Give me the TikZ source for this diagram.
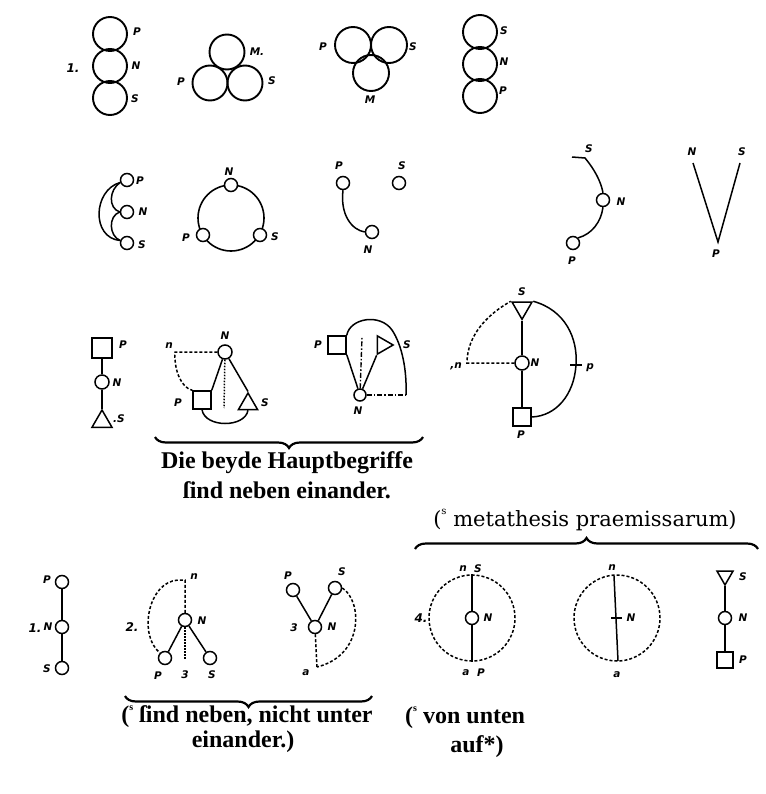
\documentclass[tikz,border=0pt]{standalone}
\usepackage{fontspec}
\setmainfont{Liberation Serif}
\newfontfamily\frkfont{Liberation Serif}
\newfontfamily\romfont{DejaVu Serif}
\newfontfamily\labfont{DejaVu Sans}
\usetikzlibrary{shapes.geometric,decorations.pathreplacing}
\tikzset{
  bc/.style={circle,draw,inner sep=0pt,line width=1.9pt},
  sc/.style={circle,draw,fill=white,minimum size=13pt,inner sep=0pt,line width=1.5pt},
  sq/.style={rectangle,draw,fill=white,minimum size=18pt,inner sep=0pt,line width=1.5pt},
  tri/.style={regular polygon,regular polygon sides=3,draw,fill=white,inner sep=0pt,line width=1.5pt},
  ln/.style={line width=1.5pt},
  dsh/.style={line width=1.5pt,dash pattern=on 3pt off 2pt},
  dotl/.style={line width=1.5pt,dash pattern=on 1.5pt off 1.5pt},
  dshdot/.style={line width=1.4pt,dash pattern=on 5pt off 2pt on 1.5pt off 2pt},
  lab/.style={font=\labfont\bfseries\itshape\fontsize{10.5}{10.5}\selectfont,inner sep=0pt},
  num/.style={font=\labfont\bfseries\itshape\fontsize{12}{12}\selectfont,inner sep=0pt},
  brc/.style={decorate,decoration={brace,amplitude=11pt},line width=2.2pt},
  frk/.style={font=\frkfont\bfseries\fontsize{24}{28}\selectfont,inner sep=0pt},
  rom/.style={font=\romfont\fontsize{21}{24}\selectfont,inner sep=0pt}
}
\newcommand\supS{\raisebox{1.1ex}{\fontsize{10}{10}\selectfont s}}
\begin{document}
\begin{tikzpicture}[x=1pt,y=-1pt]
\useasboundingbox (0,0) rectangle (765,794);
% ---------- Row 1 ----------
\node[bc,minimum size=34pt] (a1) at (110,34) {};
\node[bc,minimum size=34pt] (a2) at (110,66) {};
\node[bc,minimum size=34pt] (a3) at (110,98) {};
\node[lab] (la1) at (137,32) {P};
\node[lab] (la2) at (136,66) {N};
\node[lab] (la3) at (135,99) {S};
\node[num] (la0) at (73,68) {1.};
\node[bc,minimum size=35pt] (b1) at (227,52) {};
\node[bc,minimum size=35pt] (b2) at (210,83) {};
\node[bc,minimum size=35pt] (b3) at (245,83) {};
\node[lab] (lb1) at (257,52) {M.};
\node[lab] (lb2) at (181,82) {P};
\node[lab] (lb3) at (272,81) {S};
\node[bc,minimum size=36pt] (c1) at (353,45) {};
\node[bc,minimum size=36pt] (c2) at (389,45) {};
\node[bc,minimum size=36pt] (c3) at (371,73) {};
\node[lab] (lc1) at (323,47) {P};
\node[lab] (lc2) at (413,47) {S};
\node[lab] (lc3) at (370,100) {M};
\node[bc,minimum size=34pt] (d1) at (480,32) {};
\node[bc,minimum size=34pt] (d2) at (480,64) {};
\node[bc,minimum size=34pt] (d3) at (480,96) {};
\node[lab] (ld1) at (504,31) {S};
\node[lab] (ld2) at (504,62) {N};
\node[lab] (ld3) at (503,91) {P};
% ---------- Row 2 ----------
\node[sc] (eP) at (127,180) {};
\node[sc] (eN) at (127,212) {};
\node[sc] (eS) at (127,243) {};
\draw[ln] (eP.200) .. controls (93,190) and (91,238) .. (eS.160);
\draw[ln] (eP.200) .. controls (109,190) and (108,208) .. (eN.west);
\draw[ln] (eN.west) .. controls (108,216) and (109,236) .. (eS.160);
\node[lab] (le1) at (140,181) {P};
\node[lab] (le2) at (143,212) {N};
\node[lab] (le3) at (142,245) {S};
\node[circle,draw,line width=1.6pt,minimum size=66pt,inner sep=0pt] (fC) at (231,218) {};
\node[sc] (fN) at (231,185) {};
\node[sc] (fP) at (203,235) {};
\node[sc] (fS) at (260,235) {};
\node[lab] (lf1) at (229,172) {N};
\node[lab] (lf2) at (186,238) {P};
\node[lab] (lf3) at (275,237) {S};
\node[sc] (gP) at (343,183) {};
\node[sc] (gS) at (399,183) {};
\node[sc] (gN) at (372,232) {};
\draw[ln] (gP.south) .. controls (340,215) and (352,230) .. (gN.west);
\node[lab] (lg1) at (339,166) {P};
\node[lab] (lg2) at (402,166) {S};
\node[lab] (lg3) at (368,250) {N};
\coordinate (hT) at (585,158);
\coordinate (hL) at (572,157);
\node[sc] (hN) at (603,200) {};
\node[sc] (hP) at (573,243) {};
\draw[ln] (hL) -- (hT) .. controls (595,170) and (601,182) .. (hN.north);
\draw[ln] (hN.south) .. controls (601,222) and (592,234) .. (hP.45);
\node[lab] (lh1) at (589,149) {S};
\node[lab] (lh2) at (621,202) {N};
\node[lab] (lh3) at (572,261) {P};
\coordinate (iN) at (693,163);
\coordinate (iS) at (740,163);
\coordinate (iP) at (718,242);
\draw[ln] (iN) -- (iP) -- (iS);
\node[lab] (li1) at (692,152) {N};
\node[lab] (li2) at (742,152) {S};
\node[lab] (li3) at (716,254) {P};
% ---------- Row 3 ----------
\node[sq,minimum size=20pt] (jP) at (102,348) {};
\node[sc,minimum size=14pt] (jN) at (102,382) {};
\node[tri,minimum size=23pt] (jS) at (102,421.5) {};
\draw[ln] (jP) -- (jN);
\draw[ln] (jN) -- (jS.corner 1);
\node[lab] (lj1) at (123,345) {P};
\node[lab] (lj2) at (117,383) {N};
\node[lab] (lj3) at (119,419) {.S};
% K
\node[sc,minimum size=14pt] (kN) at (225,352) {};
\node[sq] (kP) at (202,400) {};
\node[tri,minimum size=22pt] (kS) at (248,404) {};
\coordinate (kn) at (175,352);
\coordinate (kd) at (224,408);
\draw[ln] (kN) -- (kP.north east);
\draw[ln] (kN) -- (kS.corner 1);
\draw[dotl] (kN) -- (kd);
\draw[dsh] (kN) -- (kn) .. controls (174,372) and (182,388) .. (kP.north west);
\draw[ln] (kP.south) .. controls (205,428) and (245,428) .. (kS.south);
\node[lab] (lk1) at (225,336) {N};
\node[lab] (lk2) at (169,346) {n};
\node[lab] (lk3) at (178,403) {P};
\node[lab] (lk4) at (265,403) {S};
% L
\node[sq] (lP) at (337,345) {};
\node[tri,minimum size=21pt,shape border rotate=-90] (lS) at (382.6,345) {};
\node[sc,minimum size=12pt] (lN) at (360,395) {};
\coordinate (lT) at (362,337);
\coordinate (lR) at (406,395);
\draw[ln] (lN) -- (lP.south east);
\draw[ln] (lN) -- (lS.corner 3);
\draw[dshdot] (lN) -- (lT);
\draw[dshdot] (lN) -- (lR);
\draw[ln] (lP.north east) .. controls (350,318) and (380,313) .. (392,330) .. controls (402,345) and (407,370) .. (lR);
\node[lab] (ll1) at (318,345) {P};
\node[lab] (ll2) at (407,345) {S};
\node[lab] (ll3) at (358,411) {N};
% M
\node[tri,minimum size=23pt,shape border rotate=180] (mS) at (522,307.8) {};
\node[sc,minimum size=14pt] (mN) at (522,363) {};
\node[sq] (mP) at (522,417) {};
\coordinate (mn) at (467,363);
\coordinate (mT) at (576,365);
\coordinate (mT1) at (570,365);
\coordinate (mT2) at (582,365);
\draw[ln] (mS.corner 1) -- (mN);
\draw[ln] (mN) -- (mP);
\draw[dsh] (mN) -- (mn) .. controls (467,335) and (488,314) .. (mS.corner 3);
\draw[ln] (mS.corner 2) .. controls (565,310) and (578,338) .. (mT) .. controls (574,395) and (556,416) .. (mP.east);
\draw[ln] (mT1) -- (mT2);
\node[lab] (lm1) at (522,292) {S};
\node[lab] (lm2) at (535,363) {N};
\node[lab] (lm3) at (521,435) {P};
\node[lab] (lm4) at (456,366) {,n};
\node[lab] (lm5) at (590,368) {p};
% brace and text
\coordinate (br1a) at (423,437);
\coordinate (br1b) at (155,437);
\draw[brc] (br1a) -- (br1b);
\node[frk] (t1) at (287,463) {Die beyde Hauptbegriffe};
\node[frk] (t2) at (287,490) {ſind neben einander.};
% ---------- Row 4 ----------
\node[sc] (nP) at (62,582) {};
\node[sc] (nN) at (62,627) {};
\node[sc] (nS) at (62,668) {};
\draw[ln] (nP) -- (nN) -- (nS);
\node[lab] (ln1) at (47,580) {P};
\node[lab] (ln2) at (48,627) {N};
\node[num] (ln0) at (35,628) {1.};
\node[lab] (ln3) at (47,669) {S};
% O
\node[sc] (oN) at (185,620) {};
\node[sc] (oP) at (165,658) {};
\node[sc] (oS) at (210,658) {};
\coordinate (oT) at (185,580);
\coordinate (oL) at (178,580);
\coordinate (oB) at (185,660);
\draw[ln] (oN) -- (oP);
\draw[ln] (oN) -- (oS);
\draw[dotl] (oN) -- (oB);
\draw[dsh] (oN) -- (oT) -- (oL) .. controls (148,582) and (138,635) .. (oP.north west);
\node[lab] (lo1) at (194,577) {n};
\node[lab] (lo2) at (202,621) {N};
\node[num] (lo0) at (132,627) {2.};
\node[lab] (lo3) at (158,676) {P};
\node[lab] (lo4) at (185,675) {3};
\node[lab] (lo5) at (212,675) {S};
% P fig
\node[sc] (pP) at (293,590) {};
\node[sc] (pS) at (335,588) {};
\node[sc] (pN) at (315,627) {};
\coordinate (pB) at (317,667);
\draw[ln] (pN) -- (pP);
\draw[ln] (pN) -- (pS);
\draw[dsh] (pN) -- (pB);
\draw[dsh] (pS.east) .. controls (362,600) and (365,655) .. (pB);
\node[lab] (lp1) at (288,576) {P};
\node[lab] (lp2) at (342,572) {S};
\node[lab] (lp3) at (332,627) {N};
\node[lab] (lp4) at (294,628) {3};
\node[lab] (lp5) at (306,673) {a};
\coordinate (br2a) at (372,696);
\coordinate (br2b) at (125,696);
\draw[brc] (br2a) -- (br2b);
\node[frk] (t3) at (247,717) {(\supS{} ſind neben, nicht unter};
\node[frk] (t4) at (243,742) {einander.)};
% right part
\node[rom] (t5) at (585,520) {(\supS{} metathesis praemissarum)};
\coordinate (br3a) at (415,549);
\coordinate (br3b) at (758,549);
\draw[brc] (br3a) -- (br3b);
% Q
\node[circle,draw,dsh,minimum size=86pt,inner sep=0pt] (qC) at (472,618) {};
\node[sc] (qN) at (472,618) {};
\draw[ln] (qC.north) -- (qN);
\draw[ln] (qN) -- (qC.south);
\node[num] (lq0) at (421,618) {4.};
\node[lab] (lq1) at (488,618) {N};
\node[lab] (lq2) at (463,569) {n};
\node[lab] (lq3) at (478,569) {S};
\node[lab] (lq4) at (466,673) {a};
\node[lab] (lq5) at (481,673) {P};
% R
\node[circle,draw,dsh,minimum size=86pt,inner sep=0pt] (rC) at (617,618) {};
\coordinate (rT) at (614,576);
\coordinate (rB) at (618,661);
\coordinate (rK1) at (611,618);
\coordinate (rK2) at (622,618);
\draw[ln] (rT) -- (rB);
\draw[ln] (rK1) -- (rK2);
\node[lab] (lr1) at (612,568) {n};
\node[lab] (lr2) at (631,618) {N};
\node[lab] (lr3) at (617,675) {a};
% S fig
\node[tri,minimum size=18.5pt,shape border rotate=180] (sS) at (725,575.7) {};
\node[sc] (sN) at (725,618) {};
\node[sq,minimum size=16pt] (sP) at (725,660) {};
\draw[ln] (sS.corner 1) -- (sN);
\draw[ln] (sN) -- (sP);
\node[lab] (ls1) at (743,577) {S};
\node[lab] (ls2) at (743,618) {N};
\node[lab] (ls3) at (743,660) {P};
\node[frk,anchor=west] (t6) at (405,718) {(\supS{} von unten};
\node[frk] (t7) at (477,747) {auf*)};
\end{tikzpicture}
\end{document}
